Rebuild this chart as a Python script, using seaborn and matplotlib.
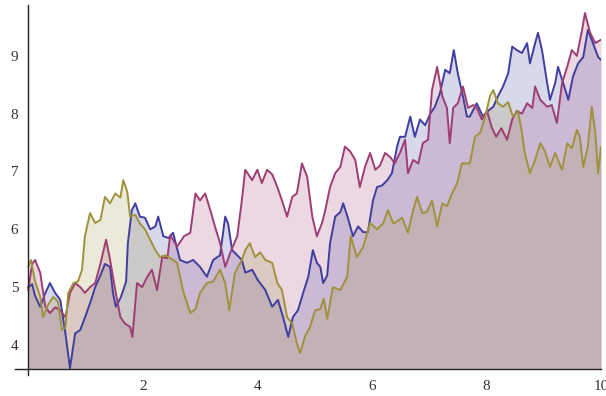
import numpy as np
import pandas as pd
import matplotlib
matplotlib.use("Agg")
import matplotlib.pyplot as plt
import seaborn as sns
from matplotlib.ticker import MultipleLocator, FixedLocator

# values
blue_x = [0.00, 0.07, 0.12, 0.21, 0.30, 0.38, 0.47, 0.56, 0.65, 0.73, 0.82, 0.91, 1.00, 1.08, 1.17,
          1.26, 1.34, 1.43, 1.48, 1.53, 1.62, 1.71, 1.74, 1.81, 1.87, 1.95, 2.04, 2.13, 2.22, 2.27,
          2.36, 2.45, 2.53, 2.65, 2.77, 2.88, 3.00, 3.12, 3.23, 3.35, 3.44, 3.49, 3.56, 3.65, 3.73,
          3.79, 3.91, 4.01, 4.14, 4.26, 4.36, 4.45, 4.54, 4.62, 4.71, 4.80, 4.89, 4.97, 5.04, 5.10,
          5.15, 5.22, 5.27, 5.36, 5.45, 5.50, 5.58, 5.67, 5.76, 5.85, 5.93, 6.02, 6.09, 6.18, 6.27,
          6.35, 6.44, 6.49, 6.58, 6.67, 6.75, 6.84, 6.93, 7.02, 7.10, 7.19, 7.28, 7.36, 7.43, 7.50,
          7.59, 7.66, 7.71, 7.83, 7.94, 8.03, 8.12, 8.20, 8.29, 8.38, 8.45, 8.53, 8.62, 8.71, 8.76,
          8.85, 8.90, 8.97, 9.06, 9.11, 9.20, 9.25, 9.34, 9.43, 9.51, 9.60, 9.69, 9.77, 9.86, 9.95,
          10.00]
blue_y = [5.00, 5.05, 4.85, 4.66, 4.90, 5.07, 4.90, 4.78, 4.20, 3.60, 4.20, 4.26, 4.50, 4.72, 5.00,
          5.20, 5.40, 5.35, 4.90, 4.66, 4.83, 5.10, 5.76, 6.33, 6.45, 6.22, 6.20, 6.00, 6.05, 6.22,
          5.88, 5.85, 5.94, 5.47, 5.42, 5.47, 5.35, 5.18, 5.47, 5.55, 6.22, 6.10, 5.64, 5.55, 5.47,
          5.25, 5.30, 5.12, 4.95, 4.66, 4.78, 4.48, 4.14, 4.48, 4.60, 4.90, 5.18, 5.64, 5.42, 5.35,
          5.07, 5.20, 5.76, 6.22, 6.30, 6.45, 6.20, 5.88, 6.05, 5.95, 5.95, 6.50, 6.73, 6.76, 6.85,
          6.97, 7.43, 7.60, 7.60, 7.95, 7.60, 7.90, 7.80, 8.00, 8.12, 8.36, 8.76, 8.70, 9.10, 8.70,
          8.30, 7.95, 7.95, 8.18, 7.95, 8.05, 8.12, 8.30, 8.47, 8.70, 9.16, 9.10, 9.05, 9.22, 8.87,
          9.22, 9.40, 9.10, 8.53, 8.24, 8.53, 8.81, 8.53, 8.24, 8.64, 8.87, 8.98, 9.45, 9.22, 8.98,
          8.93]

magenta_x = [0.00, 0.07, 0.12, 0.21, 0.30, 0.38, 0.47, 0.56, 0.65, 0.73, 0.82, 0.91, 0.99, 1.08,
             1.17, 1.26, 1.36, 1.43, 1.52, 1.61, 1.69, 1.78, 1.82, 1.90, 1.99, 2.08, 2.16, 2.25,
             2.34, 2.43, 2.48, 2.60, 2.72, 2.83, 2.92, 3.00, 3.09, 3.18, 3.26, 3.35, 3.44, 3.53,
             3.65, 3.73, 3.79, 3.91, 4.00, 4.08, 4.17, 4.26, 4.35, 4.43, 4.52, 4.61, 4.69, 4.78,
             4.87, 4.96, 5.04, 5.13, 5.18, 5.27, 5.36, 5.45, 5.53, 5.62, 5.71, 5.79, 5.88, 5.97,
             6.06, 6.14, 6.23, 6.32, 6.40, 6.49, 6.58, 6.63, 6.72, 6.81, 6.89, 6.98, 7.05, 7.14,
             7.23, 7.31, 7.36, 7.42, 7.50, 7.59, 7.68, 7.77, 7.83, 7.92, 8.01, 8.09, 8.17, 8.26,
             8.36, 8.45, 8.53, 8.62, 8.71, 8.80, 8.85, 8.94, 9.06, 9.14, 9.23, 9.32, 9.41, 9.49,
             9.58, 9.67, 9.72, 9.81, 9.90, 10.00]
magenta_y = [4.95, 5.40, 5.47, 5.25, 4.66, 4.55, 4.65, 4.60, 4.48, 4.90, 5.07, 5.00, 4.90, 5.00,
             5.07, 5.40, 5.82, 5.47, 4.95, 4.48, 4.37, 4.31, 4.14, 5.07, 5.00, 5.18, 5.30, 4.95,
             5.52, 5.50, 5.90, 5.70, 5.88, 5.94, 6.62, 6.50, 6.62, 6.33, 6.05, 5.76, 5.35, 5.60,
             5.88, 6.50, 7.03, 6.85, 7.03, 6.80, 7.03, 6.95, 6.73, 6.50, 6.22, 6.56, 6.62, 7.14,
             6.91, 6.22, 5.88, 6.11, 6.30, 6.73, 6.97, 7.08, 7.43, 7.35, 7.20, 6.73, 7.08, 7.32,
             7.03, 7.10, 7.32, 7.25, 7.14, 7.32, 7.55, 6.97, 7.20, 7.14, 7.49, 7.55, 8.41, 8.81,
             8.30, 8.10, 7.49, 8.10, 8.18, 8.47, 8.10, 8.15, 8.10, 7.90, 8.05, 7.77, 7.60, 7.75,
             7.55, 7.90, 8.05, 8.00, 8.18, 8.10, 8.47, 8.24, 8.12, 8.15, 7.84, 8.53, 8.81, 9.10,
             9.00, 9.45, 9.74, 9.40, 9.22, 9.28]

olive_x = [0.00, 0.05, 0.12, 0.21, 0.26, 0.35, 0.44, 0.52, 0.59, 0.65, 0.70, 0.79, 0.87, 0.94,
           0.99, 1.08, 1.17, 1.26, 1.34, 1.43, 1.52, 1.61, 1.66, 1.73, 1.78, 1.87, 1.95, 2.04,
           2.13, 2.22, 2.30, 2.39, 2.48, 2.53, 2.60, 2.70, 2.83, 2.92, 3.00, 3.12, 3.23, 3.35,
           3.44, 3.51, 3.61, 3.73, 3.79, 3.87, 3.96, 4.05, 4.14, 4.26, 4.35, 4.43, 4.52, 4.61,
           4.69, 4.75, 4.83, 4.92, 5.01, 5.10, 5.16, 5.22, 5.32, 5.45, 5.57, 5.63, 5.74, 5.85,
           5.97, 6.09, 6.20, 6.28, 6.37, 6.40, 6.53, 6.63, 6.72, 6.79, 6.88, 6.96, 7.05, 7.14,
           7.23, 7.31, 7.40, 7.49, 7.57, 7.66, 7.71, 7.80, 7.89, 7.98, 8.06, 8.12, 8.20, 8.29,
           8.38, 8.46, 8.55, 8.62, 8.67, 8.76, 8.85, 8.94, 9.02, 9.11, 9.20, 9.32, 9.41, 9.49,
           9.58, 9.63, 9.69, 9.77, 9.84, 9.90, 9.95, 10.00]
olive_y = [5.35, 5.47, 5.10, 4.83, 4.48, 4.70, 4.83, 4.75, 4.26, 4.30, 4.90, 5.07, 5.10, 5.30,
           5.88, 6.28, 6.11, 6.16, 6.56, 6.45, 6.62, 6.55, 6.85, 6.65, 6.22, 6.25, 6.10, 6.00,
           5.82, 5.64, 5.52, 5.55, 5.50, 5.47, 5.42, 4.95, 4.55, 4.62, 4.90, 5.07, 5.10, 5.30,
           5.07, 4.60, 5.25, 5.47, 5.64, 5.76, 5.52, 5.60, 5.47, 5.42, 5.07, 4.95, 4.48, 4.37,
           4.03, 3.86, 4.14, 4.31, 4.60, 4.62, 4.80, 4.45, 5.00, 4.95, 5.18, 5.88, 5.52, 5.70,
           6.11, 6.00, 6.11, 6.33, 6.11, 6.11, 6.20, 5.94, 6.33, 6.56, 6.28, 6.30, 6.50, 6.05,
           6.45, 6.40, 6.62, 6.80, 7.14, 7.14, 7.14, 7.60, 7.67, 7.95, 8.30, 8.41, 8.18, 8.12,
           8.20, 7.95, 8.05, 7.67, 7.32, 6.97, 7.20, 7.49, 7.35, 7.08, 7.32, 7.03, 7.49, 7.40,
           7.72, 7.60, 7.08, 7.43, 8.12, 7.67, 6.97, 7.43]

series_names = ["blue", "magenta", "olive"]
colors = ["#3f3d9e", "#9e3d73", "#9e923d"]

axis_y = 3.585

df = pd.concat([
    pd.DataFrame({"x": blue_x, "y": blue_y, "series": "blue"}),
    pd.DataFrame({"x": magenta_x, "y": magenta_y, "series": "magenta"}),
    pd.DataFrame({"x": olive_x, "y": olive_y, "series": "olive"}),
])

sns.set_theme(style="white")
plt.rcParams["font.family"] = ["Liberation Serif", "DejaVu Serif"]

fig = plt.figure(figsize=(6.06, 3.96), dpi=100)
ax = fig.add_axes([15 / 606, 21 / 396, 586 / 606, 370 / 396])

# fills to the axis, drawn first
for name, col in zip(series_names, colors):
    sub = df[df["series"] == name]
    ax.fill_between(sub["x"], sub["y"], axis_y, color=col, alpha=0.2, lw=0)

sns.lineplot(data=df, x="x", y="y", hue="series", palette=dict(zip(series_names, colors)),
             estimator=None, sort=False, legend=False, lw=1.4, ax=ax)

ax.set_xlim(-0.23, 10.0)
ax.set_ylim(3.48, 9.88)
ax.set_xlabel("")
ax.set_ylabel("")

# Mathematica-style axes crossing at (0, axis_y)
for s in ["top", "right"]:
    ax.spines[s].set_visible(False)
ax.spines["left"].set_position(("data", 0))
ax.spines["bottom"].set_position(("data", axis_y))
for s in ["left", "bottom"]:
    ax.spines[s].set_color("#222222")
    ax.spines[s].set_linewidth(1.0)

ax.xaxis.set_major_locator(FixedLocator([2, 4, 6, 8, 10]))
ax.xaxis.set_minor_locator(MultipleLocator(0.5))
ax.yaxis.set_major_locator(FixedLocator([4, 5, 6, 7, 8, 9]))
ax.yaxis.set_minor_locator(MultipleLocator(0.2))

ax.tick_params(axis="both", which="both", direction="in", color="#222222", width=0.9,
               labelsize=11, labelcolor="#333333")
ax.tick_params(axis="x", which="major", length=5, pad=8)
ax.tick_params(axis="x", which="minor", length=3)
ax.tick_params(axis="y", which="major", length=5, pad=7)
ax.tick_params(axis="y", which="minor", length=3)
ax.grid(False)

fig.savefig("out.png", dpi=100)
